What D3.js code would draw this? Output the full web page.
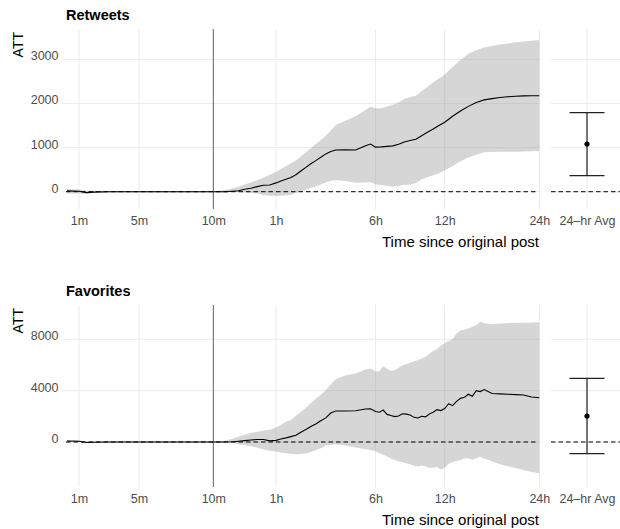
<!DOCTYPE html>
<html><head><meta charset="utf-8">
<script src="https://cdn.jsdelivr.net/npm/d3@7"></script>
<style>
body{margin:0;background:#fff;}
svg{display:block;font-family:"Liberation Sans",Arial,Helvetica,sans-serif;}
</style></head>
<body><svg id="chart" width="620" height="529"></svg>
<script>
// ---------- data ----------
const xTickValues = [1, 5, 10, 60, 360, 720, 1440];
const xTickLabels = ["1m", "5m", "10m", "1h", "6h", "12h", "24h"];
const xBreaks = [0, 1, 5, 10, 60, 360, 720, 1440]; // minutes, axis segments

const rtTimes = [0.2,1,1.5,2,3,5,7,10,15,20,25,30,35,40,45,50,55,60,75,90,105,120,135,150,165,180,195,210,225,240,270,300,330,345,360,390,420,450,480,510,540,570,600,630,660,690,720,780,840,900,960,1020,1080,1140,1200,1260,1320,1380,1440];
const rtMean = [20,10,-20,-10,0,0,0,0, 0,0,10,23,55,80,115,145,152,200, 245,283,320,385,470,553,633,705,783,857,912,944, 948,946,1042,1080,1010, 1017,1027,1039,1076,1128,1160,1190,1270,1350,1420,1500,1575, 1710,1830,1935,2025,2082,2110,2135,2153,2164,2172,2175,2177];
const rtHigh = [60,50,20,20,10,10,10,10, 20,45,72,115,162,209,262,320,385,447, 513,580,644,709,798,892,985,1080,1175,1269,1385,1510, 1615,1712,1850,1925,1895, 1895,1930,1970,2025,2100,2150,2175,2275,2380,2480,2565,2660, 2825,2985,3130,3210,3270,3305,3335,3360,3388,3408,3425,3440];
const rtLow = [-40,-40,-50,-20,-10,-10,-10,-10, -10,-10,-5,-8,-20,-28,-40,-75,-93,-98, -92,-83,-68,-30,7,45,83,120,160,208,250,258, 244,205,210,220,165, 150,135,118,128,155,157,200,280,330,375,420,480, 585,690,775,840,895,900,905,907,907,910,915,923];

const favTimes = [0.2,1,1.5,2,3,5,7,10,15,20,25,30,35,40,45,50,55,60,75,90,105,120,135,150,165,180,195,210,225,240,270,300,330,345,360,380,400,420,440,460,480,500,520,540,560,580,600,620,640,660,680,700,720,750,780,810,840,870,900,930,960,990,1020,1080,1140,1200,1260,1320,1380,1440];
const favMean = [80,60,-40,-20,0,0,0,0, 0,5,15,60,110,160,195,200,90,128, 230,320,420,525,760,970,1200,1400,1650,1880,2260,2420, 2418,2435,2565,2580,2380, 2320,2490,2150,2060,1980,2030,2200,2170,2100,1920,1870,2000,1960,2180,2320,2520,2450,2610, 2980,2830,3170,3400,3480,3720,3560,4000,3930,4080, 3780,3750,3720,3690,3660,3500,3450];
const favHigh = [150,120,30,30,30,30,30,30, 40,120,260,400,570,700,800,890,960,1120, 1350,1575,1720,2050,2340,2670,3010,3360,3680,4030,4470,4880, 5190,5340,5650,5720,5500, 5520,5900,5700,5530,5590,5780,5960,6070,6180,6270,6380,6480,6650,6880,7090,7240,7500,7700, 7870,8030,8450,8700,8750,8850,8980,9100,9360,9250, 9200,9230,9260,9280,9295,9310,9325];
const favLow = [20,0,-60,-40,-30,-30,-30,-30, -30,-40,-60,-170,-250,-320,-440,-560,-680,-750, -820,-880,-915,-952,-930,-890,-770,-650,-480,-270,-210,-185, -275,-430,-560,-620,-700, -850,-1000,-1130,-1290,-1400,-1500,-1580,-1650,-1740,-1850,-1900,-1830,-1880,-2020,-2000,-1950,-2150,-2000, -1700,-1550,-1480,-1400,-1260,-1280,-1380,-1260,-1150,-1280, -1500,-1740,-1880,-2020,-2180,-2330,-2440];

const avgLabel = ["24\u2013hr Avg"];
const rtAvg = {mean: 1082, lo: 363, hi: 1791};
const favAvg = {mean: 2025, lo: -911, hi: 4962};

const rtYTicks = [0, 1000, 2000, 3000];
const favYTicks = [0, 4000, 8000];

// ---------- layout ----------
const svg = d3.select("#chart");
const FONT = "Liberation Sans, Arial, sans-serif";
const L = 62, R = 541, RP0 = 553, RP1 = 621;
const xFrac = [0.0042, 0.0355, 0.1608, 0.3159, 0.4468, 0.6545, 0.7990, 0.9965];
const x = d3.scaleLinear().domain(xBreaks).range(xFrac.map(f => L + f * (R - L)));
const xr = d3.scalePoint().domain(avgLabel).range([RP0, RP1]).padding(0.5);

const panels = [
  {title: "Retweets", top: 29, bottom: 209, ydom: [-392, 3689], yticks: rtYTicks,
   times: rtTimes, mean: rtMean, hi: rtHigh, lo: rtLow, avg: rtAvg},
  {title: "Favorites", top: 305, bottom: 487, ydom: [-3506, 10672], yticks: favYTicks,
   times: favTimes, mean: favMean, hi: favHigh, lo: favLow, avg: favAvg}
];

const grid = "#ebebeb", tickCol = "#4d4d4d";

panels.forEach(p => {
  const y = d3.scaleLinear().domain(p.ydom).range([p.bottom, p.top]);
  const g = svg.append("g");

  // gridlines main panel
  g.selectAll(".hg").data(p.yticks).join("line")
    .attr("x1", L).attr("x2", R).attr("y1", d => y(d)).attr("y2", d => y(d))
    .attr("stroke", grid).attr("stroke-width", 1);
  g.selectAll(".vg").data(xTickValues).join("line")
    .attr("x1", d => x(d)).attr("x2", d => x(d)).attr("y1", p.top).attr("y2", p.bottom)
    .attr("stroke", grid).attr("stroke-width", 1);
  // gridlines right panel
  g.selectAll(".hgr").data(p.yticks).join("line")
    .attr("x1", 551).attr("x2", 620).attr("y1", d => y(d)).attr("y2", d => y(d))
    .attr("stroke", grid).attr("stroke-width", 1);
  g.append("line").attr("x1", xr(avgLabel[0])).attr("x2", xr(avgLabel[0]))
    .attr("y1", p.top).attr("y2", p.bottom).attr("stroke", grid).attr("stroke-width", 1);

  // band
  const idx = d3.range(p.times.length);
  g.append("path").datum(idx)
    .attr("d", d3.area().x(i => x(p.times[i])).y0(i => y(p.lo[i])).y1(i => y(p.hi[i])))
    .attr("fill", "#999999").attr("fill-opacity", 0.4);

  // zero dashed lines
  g.append("line").attr("x1", L + 4).attr("x2", R - 3).attr("y1", y(0)).attr("y2", y(0))
    .attr("stroke", "#000").attr("stroke-width", 1).attr("stroke-dasharray", "4.5,3");
  g.append("line").attr("x1", 551).attr("x2", 620).attr("y1", y(0)).attr("y2", y(0))
    .attr("stroke", "#000").attr("stroke-width", 1).attr("stroke-dasharray", "4.5,3");

  // 10m marker
  g.append("line").attr("x1", x(10)).attr("x2", x(10)).attr("y1", p.top).attr("y2", p.bottom)
    .attr("stroke", "#555").attr("stroke-width", 0.9);

  // mean line
  g.append("path").datum(idx)
    .attr("d", d3.line().x(i => x(p.times[i])).y(i => y(p.mean[i])))
    .attr("fill", "none").attr("stroke", "#000").attr("stroke-width", 1.1);

  // error bar
  const cx = xr(avgLabel[0]);
  g.append("line").attr("x1", cx).attr("x2", cx).attr("y1", y(p.avg.lo)).attr("y2", y(p.avg.hi))
    .attr("stroke", "#555").attr("stroke-width", 1.6);
  [p.avg.lo, p.avg.hi].forEach(v => {
    g.append("line").attr("x1", cx - 17.5).attr("x2", cx + 17.5).attr("y1", y(v)).attr("y2", y(v))
      .attr("stroke", "#222").attr("stroke-width", 1.2);
  });
  g.append("circle").attr("cx", cx).attr("cy", y(p.avg.mean)).attr("r", 2.6).attr("fill", "#000");

  // y axis
  const ya = g.append("g").attr("transform", `translate(${L},0)`)
    .call(d3.axisLeft(y).tickValues(p.yticks).tickFormat(d3.format("d")).tickSize(0).tickPadding(3.5));
  ya.select(".domain").remove();
  ya.selectAll("text").attr("fill", tickCol).attr("font-size", 12.5)
    .attr("font-family", FONT).attr("y", -3.5);

  // x axis
  const xa = g.append("g").attr("transform", `translate(0,${p.bottom})`)
    .call(d3.axisBottom(x).tickValues(xTickValues).tickFormat((d, i) => xTickLabels[i]).tickSize(0).tickPadding(7.2));
  xa.select(".domain").remove();
  xa.selectAll("text").attr("fill", tickCol).attr("font-size", 12.5).attr("font-family", FONT);
  const xra = g.append("g").attr("transform", `translate(0,${p.bottom})`)
    .call(d3.axisBottom(xr).tickSize(0).tickPadding(7.2));
  xra.select(".domain").remove();
  xra.selectAll("text").attr("fill", tickCol).attr("font-size", 12.5).attr("font-family", FONT);

  // axis titles
  g.append("text").attr("x", R - 2).attr("y", p.bottom + 38).attr("text-anchor", "end")
    .attr("font-size", 15).attr("font-family", FONT).attr("fill", "#000").text("Time since original post");
  g.append("text").attr("transform", `translate(22.5,${p.top + 3}) rotate(-90)`)
    .attr("text-anchor", "end").attr("font-size", 14).attr("font-family", FONT).attr("fill", "#000").text("ATT");
  // panel title
  g.append("text").attr("x", 66).attr("y", p.top - 9).attr("font-size", 14.5).attr("font-family", FONT)
    .attr("font-weight", "bold").attr("fill", "#000").text(p.title);
});
</script></body></html>
